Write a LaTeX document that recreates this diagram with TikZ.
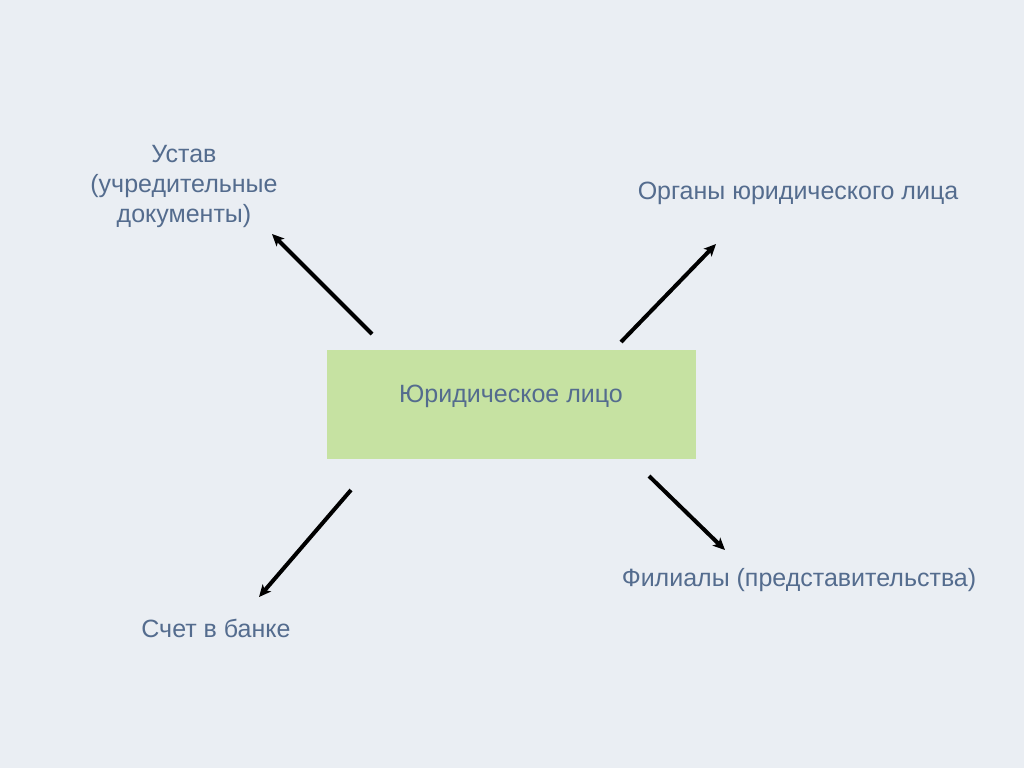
\documentclass[tikz,border=0pt]{standalone}
\usepackage{fontspec}
\setmainfont{Liberation Sans}
\usetikzlibrary{arrows.meta}
\definecolor{bg}{HTML}{EAEEF3}
\definecolor{txt}{HTML}{546C8E}
\definecolor{boxfill}{HTML}{C6E2A2}
\tikzset{
  lbl/.style={text=txt, font=\fontsize{25}{30}\selectfont, align=center, inner sep=0pt},
  arr/.style={line width=4pt, draw=black, -{Stealth[length=12pt,width=11pt,inset=3pt]}}
}
\begin{document}
\begin{tikzpicture}[x=1pt,y=-1pt]
\fill[bg] (0,0) rectangle (1024,768);
\useasboundingbox (0,0) rectangle (1024,768);
\node[fill=boxfill, minimum width=369pt, minimum height=109pt, inner sep=0pt] (main) at (511.5,404.5) {};
\node[lbl] (mainlbl) at (511,396) {Юридическое лицо};
\node[lbl] (ustav) at (184,186) {Устав\\(учредительные\\документы)};
\node[lbl] (organy) at (798,193) {Органы юридического лица};
\node[lbl] (filialy) at (799,580) {Филиалы (представительства)};
\node[lbl] (schet) at (216,628) {Счет в банке};
\coordinate (a1s) at (372,334); \coordinate (a1e) at (272,234);
\coordinate (a2s) at (621,342); \coordinate (a2e) at (716,244);
\coordinate (a3s) at (351,490); \coordinate (a3e) at (259,597);
\coordinate (a4s) at (649,476); \coordinate (a4e) at (725,550);
\draw[arr] (a1s) -- (a1e);
\draw[arr] (a2s) -- (a2e);
\draw[arr] (a3s) -- (a3e);
\draw[arr] (a4s) -- (a4e);
\end{tikzpicture}
\end{document}
